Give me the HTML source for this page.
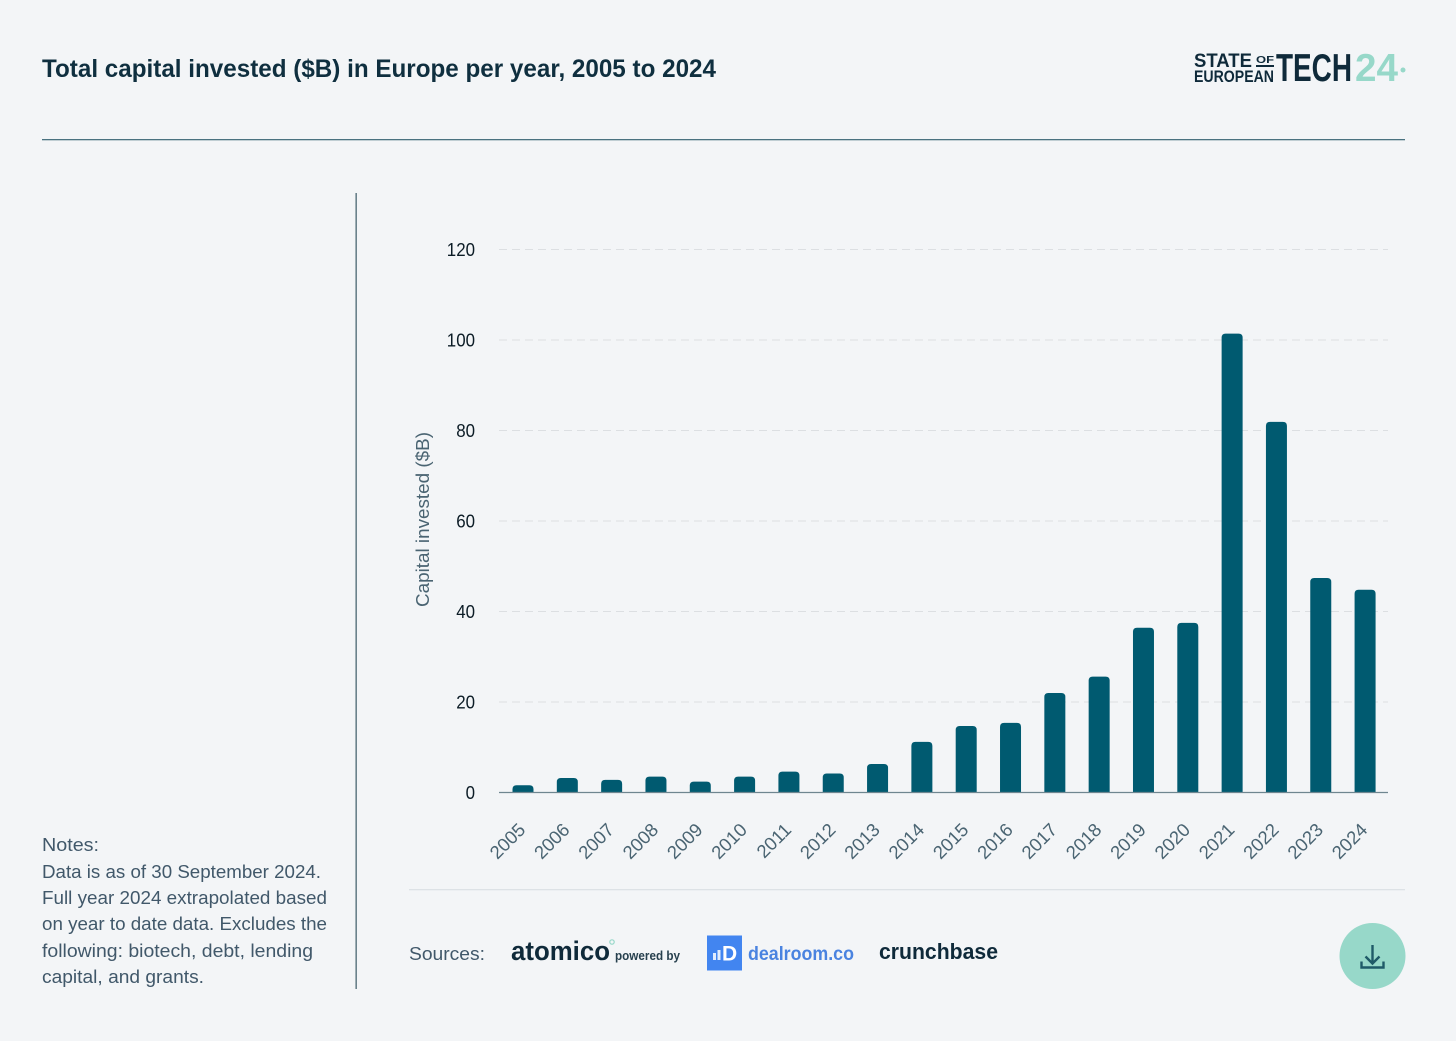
<!DOCTYPE html>
<html lang="en">
<head>
<meta charset="utf-8">
<title>Total capital invested in Europe per year</title>
<style>
html,body{margin:0;padding:0;background:#f3f5f7;}
svg{display:block;font-family:"Liberation Sans",sans-serif;}
</style>
</head>
<body>
<svg id="root" width="1456" height="1041" viewBox="0 0 1456 1041">
  <rect width="1456" height="1041" fill="#f3f5f7"/>
  <text x="42" y="77" font-size="25" font-weight="700" fill="#0f2f3f" textLength="674" lengthAdjust="spacingAndGlyphs">Total capital invested ($B) in Europe per year, 2005 to 2024</text>

  <g>
    <text x="1194" y="67" font-size="19" font-weight="700" fill="#0f2a3a" textLength="58" lengthAdjust="spacingAndGlyphs">STATE</text>
    <text x="1256" y="63" font-size="10" font-weight="700" fill="#0f2a3a" textLength="18" lengthAdjust="spacingAndGlyphs">OF</text>
    <rect x="1256" y="65" width="18" height="2" fill="#0f2a3a"/>
    <text x="1194" y="82" font-size="17" font-weight="700" fill="#0f2a3a" textLength="80" lengthAdjust="spacingAndGlyphs">EUROPEAN</text>
    <text x="1276" y="81" font-size="39" font-weight="700" fill="#0f2a3a" textLength="76" lengthAdjust="spacingAndGlyphs">TECH</text>
    <text x="1355" y="81" font-size="39" font-weight="700" fill="#97d8c9" textLength="43" lengthAdjust="spacingAndGlyphs">24</text>
    <circle cx="1403" cy="70" r="2.500" fill="#97d8c9"/>
  </g>

  <rect x="42" y="139" width="1363" height="1.300" fill="#4a7280"/>
  <rect x="355.500" y="193" width="1.300" height="796" fill="#4a6672"/>

  <g font-size="18.500" fill="#41586a">
    <text x="42" y="851" textLength="57" lengthAdjust="spacingAndGlyphs">Notes:</text>
    <text x="42" y="878" textLength="279" lengthAdjust="spacingAndGlyphs">Data is as of 30 September 2024.</text>
    <text x="42" y="904" textLength="285" lengthAdjust="spacingAndGlyphs">Full year 2024 extrapolated based</text>
    <text x="42" y="930" textLength="285" lengthAdjust="spacingAndGlyphs">on year to date data. Excludes the</text>
    <text x="42" y="957" textLength="271" lengthAdjust="spacingAndGlyphs">following: biotech, debt, lending</text>
    <text x="42" y="983" textLength="162" lengthAdjust="spacingAndGlyphs">capital, and grants.</text>
  </g>

  <g id="chart"></g>

  <text transform="translate(429 607) rotate(-90)" font-size="18.500" fill="#4a6472" textLength="175" lengthAdjust="spacingAndGlyphs">Capital invested ($B)</text>

  <rect x="409" y="889" width="996" height="1.300" fill="#dde2e6"/>

  <text x="409" y="960" font-size="18.500" fill="#41586a" textLength="76" lengthAdjust="spacingAndGlyphs">Sources:</text>
  <g>
    <text x="511" y="960" font-size="27" font-weight="700" fill="#0f2a3a" textLength="99" lengthAdjust="spacingAndGlyphs">atomico</text>
    <circle cx="612" cy="942" r="2.200" fill="none" stroke="#97d8c9" stroke-width="1.200"/>
  </g>
  <text x="615" y="960" font-size="13" font-weight="700" fill="#27404e" textLength="65" lengthAdjust="spacingAndGlyphs">powered by</text>
  <g>
    <rect x="707" y="935.500" width="35" height="35" fill="#4285f0"/>
    <rect x="713" y="953" width="3" height="7" fill="#e3edfd"/>
    <rect x="717.500" y="950" width="3" height="10" fill="#e3edfd"/>
    <text x="722" y="960.500" font-size="21" font-weight="700" fill="#ffffff">D</text>
    <text x="748" y="960" font-size="19" font-weight="700" fill="#4a83e0" textLength="106" lengthAdjust="spacingAndGlyphs">dealroom.co</text>
  </g>
  <text x="879" y="959" font-size="22" font-weight="700" fill="#0f2a3a" textLength="119" lengthAdjust="spacingAndGlyphs">crunchbase</text>

  <g>
    <circle cx="1372.500" cy="956" r="33" fill="#97d8c9"/>
    <g fill="none" stroke="#1f5a68" stroke-width="2.400">
      <path d="M1372.500 945V963M1365.500 956.500L1372.500 963.500L1379.500 956.500"/>
      <path d="M1361.500 961.500V967.500H1383.500V961.500"/>
    </g>
  </g>
</svg>
<script>
const categories = ["2005","2006","2007","2008","2009","2010","2011","2012","2013","2014","2015","2016","2017","2018","2019","2020","2021","2022","2023","2024"];
const capitalInvested = [1.6,3.2,2.8,3.5,2.4,3.5,4.6,4.2,6.3,11.2,14.7,15.4,22.0,25.6,36.4,37.5,101.4,81.9,47.4,44.8];
const yTicks = [0,20,40,60,80,100,120];

const NS = "http://www.w3.org/2000/svg";
const chart = document.getElementById("chart");
const plot = {left:499, right:1388, zeroY:792.5, topY:249.5, maxValue:120, firstX:523, stepX:44.32, barWidth:21, radius:4};

function yScale(v){
  return plot.zeroY - (v / plot.maxValue) * (plot.zeroY - plot.topY);
}
function xScale(i){
  return plot.firstX + i * plot.stepX;
}
function make(tag, attrs, text){
  const el = document.createElementNS(NS, tag);
  for (const k in attrs) el.setAttribute(k, attrs[k]);
  if (text !== undefined) el.textContent = text;
  return el;
}

yTicks.forEach(function(t){
  const y = yScale(t);
  if (t !== 0) {
    const grid = make("line", {x1:plot.left, x2:plot.right, y1:y, y2:y, stroke:"#dcdfe2", "stroke-width":1, "stroke-dasharray":"8 5"});
    
    
    chart.appendChild(grid);
  }
  const digits = String(t).length;
  const label = make("text", {x:475, y:y + 6.5, "text-anchor":"end", "font-size":18.5, fill:"#0c1c26", textLength:digits * 9.4, lengthAdjust:"spacingAndGlyphs"}, String(t));
  
  
  chart.appendChild(label);
});

capitalInvested.forEach(function(v, i){
  const x = xScale(i) - plot.barWidth / 2;
  const w = plot.barWidth;
  const top = yScale(v);
  const r = Math.min(plot.radius, plot.zeroY - top);
  const d = "M" + x + " " + plot.zeroY +
    "V" + (top + r) +
    "Q" + x + " " + top + " " + (x + r) + " " + top +
    "H" + (x + w - r) +
    "Q" + (x + w) + " " + top + " " + (x + w) + " " + (top + r) +
    "V" + plot.zeroY + "Z";
  const bar = make("path", {d:d, fill:"#005a70"});
  
  
  chart.appendChild(bar);

  const lx = xScale(i) + 3.5;
  const ly = 831;
  const label = make("text", {x:lx, y:ly, "text-anchor":"end", "font-size":18.5, fill:"#4a6472", transform:"rotate(-45 " + lx + " " + ly + ")"}, categories[i]);
  
  
  chart.appendChild(label);
});

const axis = make("line", {x1:plot.left, x2:plot.right, y1:plot.zeroY, y2:plot.zeroY, stroke:"#6f8690", "stroke-width":1.3});


chart.appendChild(axis);
</script>
</body>
</html>
